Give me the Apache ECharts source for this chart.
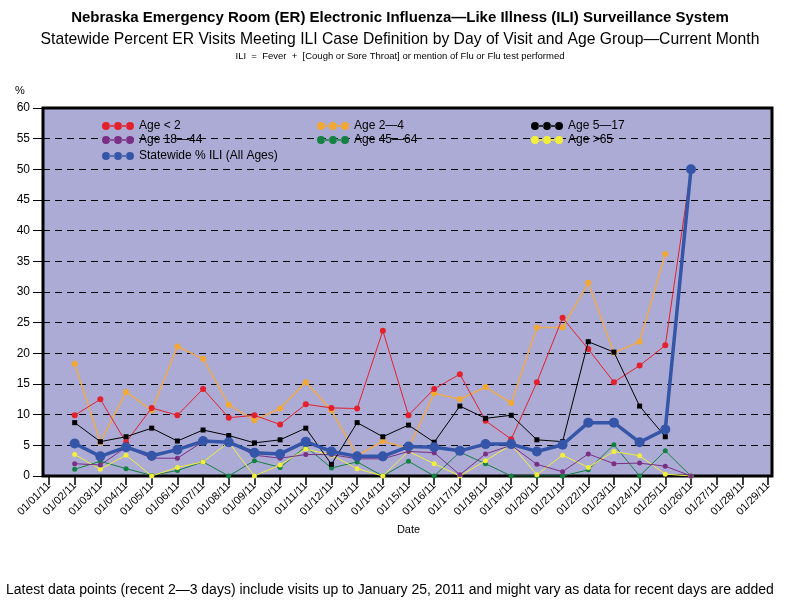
<!DOCTYPE html>
<html lang="en">
<head>
    <meta charset="UTF-8" />
    <title>Nebraska ER ILI Surveillance</title>
    <script src="https://cdn.jsdelivr.net/npm/echarts@6/dist/echarts.min.js"></script>
    <style>
        html, body { margin: 0; padding: 0; background: #fff; }
    </style>
</head>
<body>
    <div style="width: 800px; height: 600px" id="chart"></div>
    <script>
        const myChart = echarts.init(document.getElementById("chart"));

        // x轴 日期
        const dates = ["01/01/11", "01/02/11", "01/03/11", "01/04/11", "01/05/11", "01/06/11", "01/07/11", "01/08/11",
            "01/09/11", "01/10/11", "01/11/11", "01/12/11", "01/13/11", "01/14/11", "01/15/11", "01/16/11",
            "01/17/11", "01/18/11", "01/19/11", "01/20/11", "01/21/11", "01/22/11", "01/23/11", "01/24/11",
            "01/25/11", "01/26/11", "01/27/11", "01/28/11", "01/29/11"];

        // 各年龄组 % ILI
        const ageUnder2 = [null, 9.9, 12.5, 5.5, 11.1, 9.9, 14.2, 9.5, 9.9, 8.4, 11.7, 11.1, 11.0, 23.7, 9.9, 14.2,
            16.6, 9.0, 6.0, 15.3, 25.8, 20.7, 15.3, 18.0, 21.3, 50, null, null, null];
        const age2to4 = [null, 18.3, 5.5, 13.7, 10.7, 21.1, 19.1, 11.6, 9.1, 11.0, 15.3, 10.7, 3.3, 5.7, 4.5, 13.5,
            12.5, 14.5, 11.9, 24.2, 24.2, 31.5, 20.1, 21.9, 36.2, null, null, null, null];
        const age5to17 = [null, 8.7, 5.6, 6.4, 7.8, 5.7, 7.5, 6.6, 5.4, 5.9, 7.8, 1.9, 8.7, 6.4, 8.3, 5.5,
            11.4, 9.4, 9.9, 5.9, 5.6, 21.9, 20.2, 11.4, 6.4, 50, null, null, null];
        const age18to44 = [null, 2.0, 1.8, 4.7, 2.9, 2.9, 5.6, 5.5, 3.4, 2.9, 3.5, 3.5, 2.8, 2.8, 4.0, 3.8,
            0.2, 3.6, 5.0, 1.9, 0.7, 3.6, 2.0, 2.1, 1.6, 0, null, null, null];
        const age45to64 = [null, 1.1, 2.4, 1.2, 0.1, 0.9, 2.3, 0, 2.5, 1.4, 4.8, 1.3, 2.3, 0, 2.4, 0,
            3.9, 2.0, 0, 0, 0, 1.0, 5.1, 0, 4.1, 0, null, null, null];
        const age65plus = [null, 3.5, 1.1, 3.4, 0, 1.4, 2.3, 5.5, 0, 1.8, 4.4, 3.4, 1.2, 0, 4.0, 2.0,
            0, 2.5, 5.1, 0.2, 3.4, 1.4, 4.0, 3.3, 0.3, 0, null, null, null];
        const statewide = [null, 5.3, 3.2, 4.7, 3.3, 4.3, 5.7, 5.5, 3.8, 3.6, 5.6, 4.0, 3.2, 3.2, 4.8, 4.7,
            4.1, 5.2, 5.2, 4.0, 5.1, 8.7, 8.7, 5.5, 7.6, 50, null, null, null];

        const font = "Liberation Sans";
        // 图例图标：三个点连线
        const dotsIcon = "path://M0,5a4,4 0 1,0 8,0a4,4 0 1,0 -8,0ZM12,5a4,4 0 1,0 8,0a4,4 0 1,0 -8,0ZM24,5a4,4 0 1,0 8,0a4,4 0 1,0 -8,0ZM7.5,4.2H12.5V5.8H7.5ZM19.5,4.2H24.5V5.8H19.5Z";

        function ageLine(name, data, color, opts) {
            opts = opts || {};
            return {
                name: name,
                type: "line",
                data: data,
                xAxisIndex: 0,
                yAxisIndex: 0,
                symbol: opts.symbol || "circle",
                symbolSize: opts.symbolSize || 5,
                showAllSymbol: true,
                z: opts.z || 2,
                itemStyle: { color: color },
                lineStyle: { color: opts.lineColor || color, width: opts.width || 1 },
                emphasis: { disabled: true },
            };
        }

        function legendCol(left, top, names) {
            return {
                data: names,
                orient: "vertical",
                left: left,
                top: top,
                itemGap: 2,
                itemWidth: 32,
                itemHeight: 9,
                icon: dotsIcon,
                selectedMode: false,
                textStyle: { fontFamily: font, fontSize: 12, color: "#000" },
            };
        }

        const option = {
            animation: false,
            backgroundColor: "#fff",
            title: [
                {
                    text: "Nebraska Emergency Room (ER) Electronic Influenza\u2014Like Illness (ILI) Surveillance System",
                    left: "center",
                    top: 5,
                    textStyle: { fontFamily: font, fontSize: 15, fontWeight: "bold", color: "#000" },
                },
                {
                    text: "Statewide Percent ER Visits Meeting ILI Case Definition by Day of Visit and Age Group\u2014Current Month",
                    left: "center",
                    top: 27,
                    textStyle: { fontFamily: font, fontSize: 15.7, fontWeight: "normal", color: "#000" },
                },
                {
                    text: "ILI  =  Fever  +  [Cough or Sore Throat] or mention of Flu or Flu test performed",
                    left: "center",
                    top: 46,
                    textStyle: { fontFamily: font, fontSize: 9.5, fontWeight: "normal", color: "#000" },
                },
                {
                    text: "%",
                    left: 10,
                    top: 80,
                    textStyle: { fontFamily: font, fontSize: 11, fontWeight: "normal", color: "#000" },
                },
                {
                    text: "Latest data points (recent 2\u20143 days) include visits up to January 25, 2011 and might vary as data for recent days are added",
                    left: 1,
                    top: 578,
                    textStyle: { fontFamily: font, fontSize: 14, fontWeight: "normal", color: "#000" },
                },
            ],
            legend: [
                legendCol(97, 115, ["Age < 2", "Age 18\u201444"]),
                legendCol(97, 145, ["Statewide % ILI (All Ages)"]),
                legendCol(312, 115, ["Age 2\u20144", "Age 45\u201464"]),
                legendCol(526, 115, ["Age 5\u201417", "Age >65"]),
            ],
            grid: [
                // 数据区
                { left: 49, right: 32, top: 108, bottom: 124, show: false },
                // 背景框
                {
                    left: 43, right: 28, top: 108, bottom: 124, show: true,
                    backgroundColor: "#ABABD5", borderColor: "#000", borderWidth: 3, z: 0,
                },
            ],
            xAxis: [
                {
                    type: "category",
                    gridIndex: 0,
                    data: dates,
                    boundaryGap: false,
                    name: "Date",
                    nameLocation: "middle",
                    nameGap: 41,
                    nameTextStyle: { fontFamily: font, fontSize: 11, color: "#000" },
                    axisLine: { show: false },
                    axisTick: { show: true, length: 9, lineStyle: { color: "#000", width: 1.5 } },
                    axisLabel: {
                        interval: 0, rotate: 45, margin: 8,
                        fontFamily: font, fontSize: 11, color: "#000",
                    },
                    splitLine: { show: false },
                },
                {
                    type: "category",
                    gridIndex: 1,
                    data: dates,
                    show: false,
                },
            ],
            yAxis: [
                { type: "value", gridIndex: 0, min: 0, max: 60, interval: 5, show: false },
                {
                    type: "value",
                    gridIndex: 1,
                    min: 0,
                    max: 60,
                    interval: 5,
                    axisLine: { show: false },
                    axisTick: { show: true, length: 10, lineStyle: { color: "#000", width: 1 } },
                    axisLabel: { margin: 13, fontFamily: font, fontSize: 12, color: "#000" },
                    splitLine: { show: true, lineStyle: { color: "#000", width: 1, type: [7, 5] } },
                },
            ],
            series: [
                ageLine("Age < 2", ageUnder2, "#E4202C", { symbolSize: 6, z: 4 }),
                ageLine("Age 2\u20144", age2to4, "#F2A832", { lineColor: "#EBAA55", width: 1.6, symbolSize: 6, z: 3 }),
                ageLine("Age 5\u201417", age5to17, "#000000", { symbol: "rect", symbolSize: 5, z: 5 }),
                ageLine("Age 18\u201444", age18to44, "#7A2F84", { z: 3 }),
                ageLine("Age 45\u201464", age45to64, "#148042", { z: 2 }),
                ageLine("Age >65", age65plus, "#F2EE3A", { z: 2 }),
                ageLine("Statewide % ILI (All Ages)", statewide, "#3556A8", { width: 3.5, symbolSize: 10, z: 6 }),
            ],
        };

        myChart.setOption(option);
    </script>
</body>
</html>
